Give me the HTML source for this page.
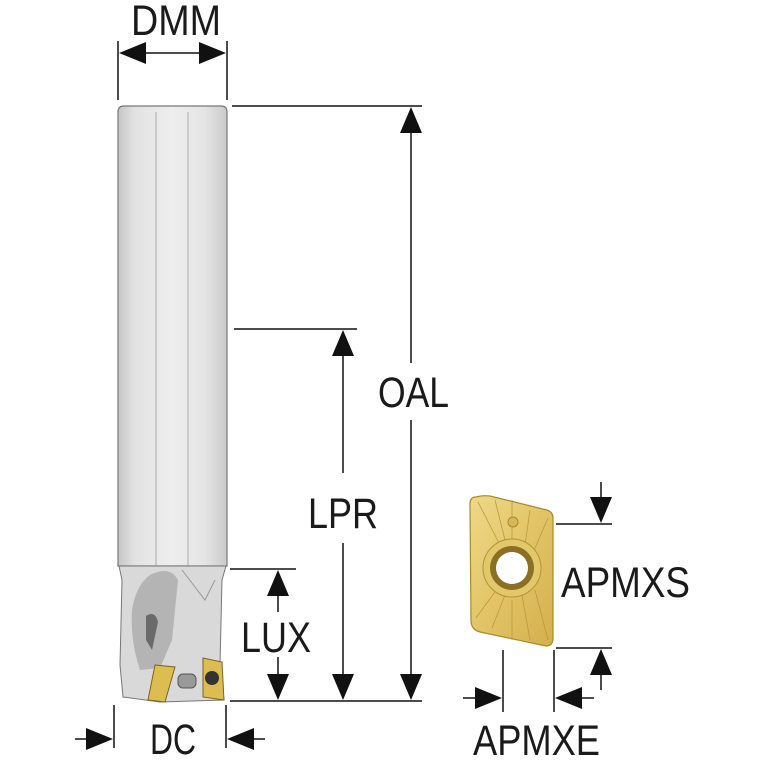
<!DOCTYPE html>
<html><head><meta charset="utf-8"><style>
html,body{margin:0;padding:0;background:#fff;}
svg{display:block}
text{font-family:"Liberation Sans Narrow","Liberation Sans",sans-serif;fill:#1a1a1a;font-size:43px}
</style></head><body>
<svg width="767" height="767" viewBox="0 0 767 767" xmlns="http://www.w3.org/2000/svg">
<defs>
<linearGradient id="sh" x1="0" x2="1" y1="0" y2="0">
<stop offset="0" stop-color="#c6c6c6"/><stop offset="0.15" stop-color="#e2e2e2"/>
<stop offset="0.5" stop-color="#eeeeee"/><stop offset="0.8" stop-color="#e4e4e4"/>
<stop offset="1" stop-color="#cacaca"/></linearGradient>
<linearGradient id="gd" x1="0" x2="1" y1="0" y2="1">
<stop offset="0" stop-color="#efd987"/><stop offset="0.5" stop-color="#e2c466"/><stop offset="1" stop-color="#d2b04c"/></linearGradient>
</defs>
<!-- shank -->
<path d="M118 112 Q118 106 124 106 L221 106 Q227 106 227 112 L227 566 L118 566 Z" fill="url(#sh)" stroke="#777" stroke-width="1.2"/>
<line x1="156" y1="112" x2="156" y2="566" stroke="#aaa"/>
<line x1="188" y1="112" x2="188" y2="566" stroke="#aaa"/>
<!-- head -->
<path d="M119 566 L226 566 L222 580 L220 665 L224 700 L160 702 L123 697 L120 665 L122 580 Z" fill="#d9d9d9" stroke="#777"/>
<path d="M150 575 Q170 565 178 580 L172 640 L160 668 L140 670 Q130 640 132 610 Q136 585 150 575 Z" fill="#b4b4b4"/>
<path d="M146 616 Q155 610 158 622 L152 650 L146 640 Z" fill="#6a6a6a"/>
<path d="M182 570 L205 600 L215 580" fill="none" stroke="#999"/>
<path d="M155 665 L175 667 L165 702 L148 700 Z" fill="#dcbd50" stroke="#7a6420"/>
<path d="M203 658 L222 662 L224 700 L203 697 Z" fill="#dcbd50" stroke="#7a6420"/>
<circle cx="212" cy="678" r="7" fill="#333"/>
<rect x="178" y="674" width="18" height="14" rx="5" fill="#999" stroke="#555"/>
<!-- DMM -->
<text x="131" y="35" textLength="90" lengthAdjust="spacingAndGlyphs">DMM</text>
<line x1="118" y1="41" x2="118" y2="100" stroke="#111" stroke-width="1.5"/>
<line x1="227" y1="41" x2="227" y2="100" stroke="#111" stroke-width="1.5"/>
<line x1="125" y1="53" x2="220" y2="53" stroke="#111" stroke-width="1.5"/>
<path d="M119 53 L146 42 L146 64 Z M226 53 L199 42 L199 64 Z" fill="#111"/>
<!-- OAL -->
<line x1="232" y1="106" x2="422" y2="106" stroke="#111" stroke-width="1.5"/>
<line x1="411" y1="110" x2="411" y2="363" stroke="#111" stroke-width="1.5"/>
<line x1="411" y1="420" x2="411" y2="698" stroke="#111" stroke-width="1.5"/>
<path d="M411 107 L400 133 L422 133 Z M411 700 L400 674 L422 674 Z" fill="#111"/>
<text x="378" y="407" textLength="71" lengthAdjust="spacingAndGlyphs">OAL</text>
<!-- LPR -->
<line x1="234" y1="329" x2="357" y2="329" stroke="#111" stroke-width="1.5"/>
<line x1="343" y1="332" x2="343" y2="473" stroke="#111" stroke-width="1.5"/>
<line x1="343" y1="543" x2="343" y2="698" stroke="#111" stroke-width="1.5"/>
<path d="M343 330 L332 356 L354 356 Z M343 700 L332 674 L354 674 Z" fill="#111"/>
<text x="308" y="528" textLength="70" lengthAdjust="spacingAndGlyphs">LPR</text>
<!-- LUX -->
<line x1="230" y1="569" x2="296" y2="569" stroke="#111" stroke-width="1.5"/>
<line x1="278" y1="572" x2="278" y2="612" stroke="#111" stroke-width="1.5"/>
<line x1="278" y1="657" x2="278" y2="698" stroke="#111" stroke-width="1.5"/>
<path d="M278 570 L267 596 L289 596 Z M278 700 L267 674 L289 674 Z" fill="#111"/>
<text x="241" y="652" textLength="70" lengthAdjust="spacingAndGlyphs">LUX</text>
<line x1="230" y1="701" x2="422" y2="701" stroke="#111" stroke-width="1.5"/>
<!-- DC -->
<line x1="114" y1="705" x2="114" y2="748" stroke="#111" stroke-width="1.5"/>
<line x1="226" y1="705" x2="226" y2="748" stroke="#111" stroke-width="1.5"/>
<line x1="75" y1="739" x2="100" y2="739" stroke="#111" stroke-width="1.5"/>
<line x1="240" y1="739" x2="265" y2="739" stroke="#111" stroke-width="1.5"/>
<path d="M113 739 L86 728 L86 750 Z M227 739 L254 728 L254 750 Z" fill="#111"/>
<text x="150" y="754" textLength="46" lengthAdjust="spacingAndGlyphs">DC</text>
<!-- insert -->
<path d="M476 497 Q470 497 470 504 L471 622 Q472 630 480 632 L546 646 Q553 646 553 638 L553 518 Q553 512 547 510 L490 496 Q482 495 476 497 Z" fill="url(#gd)" stroke="#a8892c" stroke-width="1.2"/>
<g stroke="#b89a40" stroke-width="0.8" fill="none">
<path d="M478 502 L500 545 M495 500 L505 540 M530 510 L525 545 M548 518 L532 555 M476 618 L495 592 M492 628 L505 595 M530 640 L522 595 M548 640 L535 590 M512 600 L512 640 M512 540 L512 500"/>
</g>
<circle cx="512" cy="568" r="29" fill="#e2c86a" stroke="#b29338"/>
<circle cx="512" cy="568" r="22" fill="#8a6f24"/>
<circle cx="512" cy="568" r="16" fill="#fff"/>
<circle cx="513" cy="522" r="5" fill="#d6b858" stroke="#a8892c"/>
<!-- APMXS -->
<line x1="556" y1="524" x2="612" y2="524" stroke="#111" stroke-width="1.5"/>
<line x1="601" y1="482" x2="601" y2="500" stroke="#111" stroke-width="1.5"/>
<path d="M601 523 L590 497 L612 497 Z" fill="#111"/>
<line x1="556" y1="648" x2="612" y2="648" stroke="#111" stroke-width="1.5"/>
<line x1="601" y1="670" x2="601" y2="690" stroke="#111" stroke-width="1.5"/>
<path d="M601 649 L590 675 L612 675 Z" fill="#111"/>
<text x="561" y="597" textLength="129" lengthAdjust="spacingAndGlyphs">APMXS</text>
<!-- APMXE -->
<line x1="503" y1="650" x2="503" y2="712" stroke="#111" stroke-width="1.5"/>
<line x1="554" y1="650" x2="554" y2="712" stroke="#111" stroke-width="1.5"/>
<line x1="463" y1="698" x2="480" y2="698" stroke="#111" stroke-width="1.5"/>
<line x1="575" y1="698" x2="594" y2="698" stroke="#111" stroke-width="1.5"/>
<path d="M502 698 L475 687 L475 709 Z M555 698 L582 687 L582 709 Z" fill="#111"/>
<text x="473" y="755" textLength="127" lengthAdjust="spacingAndGlyphs">APMXE</text>
</svg>
</body></html>
